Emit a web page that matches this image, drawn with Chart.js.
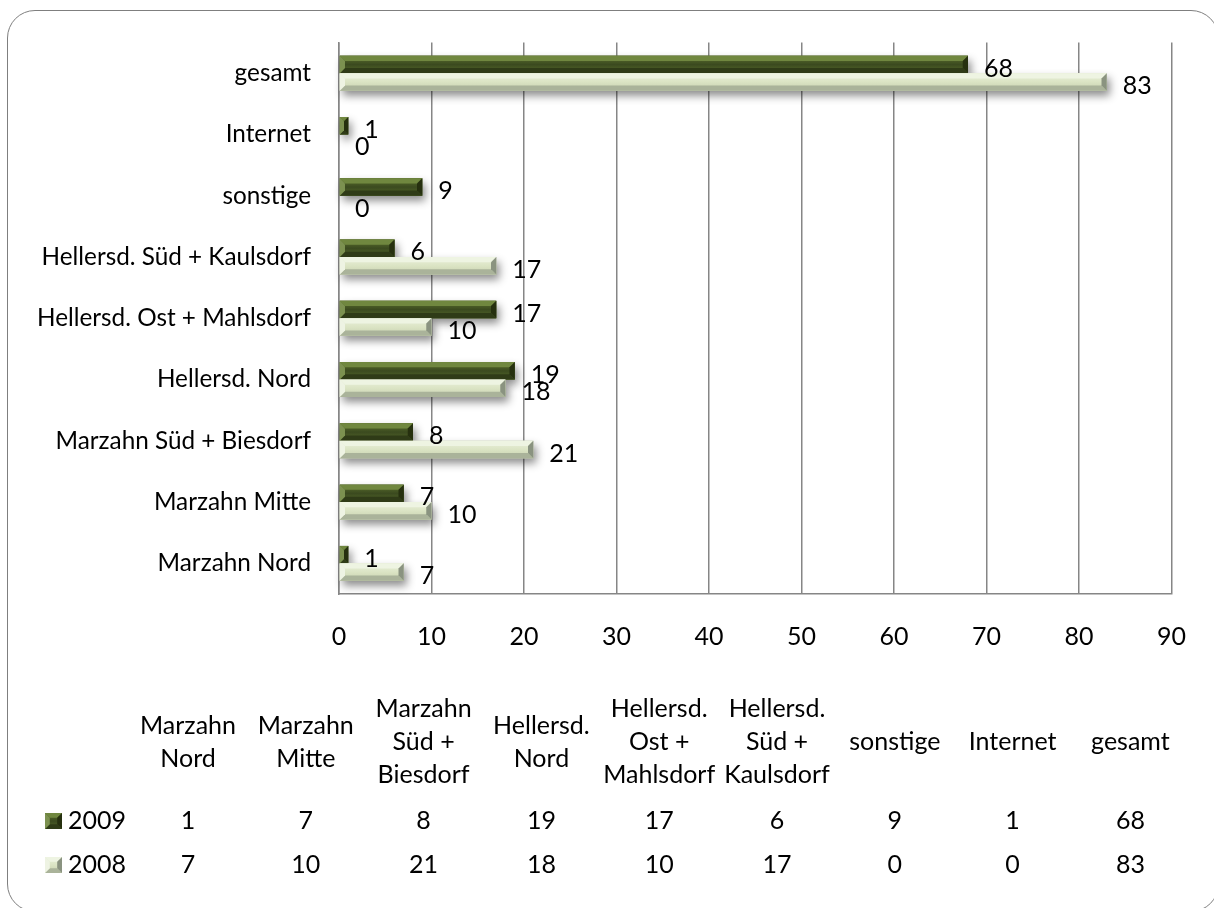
<!DOCTYPE html>
<html>
<head>
<meta charset="utf-8">
<script src="https://cdn.jsdelivr.net/npm/chart.js@4/dist/chart.umd.min.js"></script>
<style>
  body { margin: 0; background: #fff; }
  #wrap { position: relative; width: 1214px; height: 908px; overflow: hidden; }
  #frame {
    position: absolute; left: 7px; top: 10px; width: 1212px; height: 902px;
    border: 1.5px solid #7f7f7f; border-radius: 28px; box-sizing: border-box;
  }
  canvas { position: absolute; left: 0; top: 0; }
</style>
</head>
<body>
<div id="wrap">
  <div id="frame"></div>
  <canvas id="chart" width="1214" height="908"></canvas>
</div>
<script>
// data, in table order (bottom to top in the chart)
const categories = ['Marzahn Nord', 'Marzahn Mitte', 'Marzahn Süd + Biesdorf', 'Hellersd. Nord',
    'Hellersd. Ost + Mahlsdorf', 'Hellersd. Süd + Kaulsdorf', 'sonstige', 'Internet', 'gesamt'];
const seriesNames = ['2009', '2008'];
const values2009 = [1, 7, 8, 19, 17, 6, 9, 1, 68];
const values2008 = [7, 10, 21, 18, 10, 17, 0, 0, 83];
const xMin = 0, xMax = 90, xStep = 10;

const FONT = 'Lato, "Open Sans", sans-serif';
const FSIZE = 25;

// bevel colours per series
const bevel = [
    { face: ['#5d722f', '#3b4a1f', '#566a2b'], top: '#70873f', bottom: '#2f3b17', right: '#26300f', left: '#7c9150' },
    { face: ['#eaf1dc', '#dbe4c4', '#c6cfae'], top: '#eef4e2', bottom: '#aab39a', right: '#8a9380', left: '#eef3e3' }
];

function drawBevel(ctx, x0, x1, yT, h, c) {
    const yB = yT + h;
    const b = Math.min(h * 0.3, (x1 - x0) / 2);
    const g = ctx.createLinearGradient(0, yT, 0, yB);
    g.addColorStop(0, c.face[0]);
    g.addColorStop(0.5, c.face[1]);
    g.addColorStop(1, c.face[2]);
    ctx.fillStyle = g;
    ctx.fillRect(x0, yT, x1 - x0, h);
    const poly = (pts, col) => {
        ctx.beginPath();
        ctx.moveTo(pts[0][0], pts[0][1]);
        for (let i = 1; i < pts.length; i++) ctx.lineTo(pts[i][0], pts[i][1]);
        ctx.closePath();
        ctx.fillStyle = col;
        ctx.fill();
    };
    poly([[x0, yT], [x1, yT], [x1 - b, yT + b], [x0 + b, yT + b]], c.top);
    poly([[x0, yB], [x1, yB], [x1 - b, yB - b], [x0 + b, yB - b]], c.bottom);
    poly([[x0, yT], [x0, yB], [x0 + b, yB - b], [x0 + b, yT + b]], c.left);
    poly([[x1, yT], [x1, yB], [x1 - b, yB - b], [x1 - b, yT + b]], c.right);
}

function eachBar(chart, fn) {
    chart.data.datasets.forEach((ds, di) => {
        chart.getDatasetMeta(di).data.forEach((el, i) => {
            const p = el.getProps(['x', 'y', 'base', 'height'], true);
            fn(p, di, i, ds.data[i]);
        });
    });
}

const barShadow = {
    id: 'barShadow',
    beforeDatasetsDraw(chart) {
        const ctx = chart.ctx;
        eachBar(chart, (p, di) => {
            if (Math.abs(p.x - p.base) < 0.5) return;
            ctx.save();
            ctx.shadowColor = 'rgba(0,0,0,0.45)';
            ctx.shadowBlur = 9;
            ctx.shadowOffsetX = 3;
            ctx.shadowOffsetY = 5;
            ctx.fillStyle = '#888';
            ctx.fillRect(p.base, p.y - p.height / 2, p.x - p.base, p.height);
            ctx.restore();
        });
    },
    afterDatasetsDraw(chart) {
        const ctx = chart.ctx;
        eachBar(chart, (p, di) => {
            if (Math.abs(p.x - p.base) < 0.5) return;
            ctx.save();
            drawBevel(ctx, p.base, p.x, p.y - p.height / 2, p.height, bevel[di]);
            ctx.restore();
        });
        // value labels
        ctx.save();
        ctx.font = FSIZE + 'px ' + FONT;
        ctx.fillStyle = '#000';
        ctx.textAlign = 'left';
        ctx.textBaseline = 'middle';
        eachBar(chart, (p, di, i, v) => {
            ctx.fillText(String(v), p.x + 16, p.y + 4);
        });
        ctx.restore();
    }
};

// data table under the chart
const dataTable = {
    id: 'dataTable',
    afterDraw(chart) {
        const ctx = chart.ctx;
        const col0 = 188, colW = 117.8;
        const headMid = 742, lineH = 33;
        const rowY = [821, 865];
        ctx.save();
        ctx.font = FSIZE + 'px ' + FONT;
        ctx.fillStyle = '#000';
        ctx.textBaseline = 'middle';
        ctx.textAlign = 'center';
        categories.forEach((name, i) => {
            const words = name.split(' ');
            const lines = [];
            let cur = '';
            words.forEach(w => {
                const t = cur ? cur + ' ' + w : w;
                if (cur && ctx.measureText(t).width > colW - 2) {
                    lines.push(cur);
                    cur = w;
                } else cur = t;
            });
            lines.push(cur);
            const cx = col0 + i * colW;
            const y0 = headMid - (lines.length - 1) * lineH / 2;
            lines.forEach((ln, k) => ctx.fillText(ln, cx, y0 + k * lineH));
        });
        [values2009, values2008].forEach((vals, r) => {
            vals.forEach((v, i) => ctx.fillText(String(v), col0 + i * colW, rowY[r]));
        });
        // legend keys
        ctx.textAlign = 'left';
        seriesNames.forEach((s, r) => {
            drawBevel(ctx, 45, 62, rowY[r] - 8, 16, bevel[r]);
            ctx.fillStyle = '#000';
            ctx.fillText(s, 68, rowY[r]);
        });
        ctx.restore();
    }
};

new Chart(document.getElementById('chart'), {
    type: 'bar',
    data: {
        labels: categories,
        datasets: [
            { label: seriesNames[0], data: values2009, backgroundColor: '#4f6228' },
            { label: seriesNames[1], data: values2008, backgroundColor: '#dfe8c9' }
        ]
    },
    options: {
        indexAxis: 'y',
        responsive: false,
        animation: false,
        categoryPercentage: 0.57,
        barPercentage: 1.0,
        layout: { padding: { top: 37, right: 38, bottom: 254, left: 0 } },
        plugins: { legend: { display: false }, tooltip: { enabled: false } },
        scales: {
            x: {
                min: xMin, max: xMax,
                ticks: { stepSize: xStep, color: '#000', font: { family: FONT, size: FSIZE }, padding: 28 },
                grid: { color: '#868686', lineWidth: 1.5, drawTicks: false },
                border: { display: true, color: '#868686', width: 1.5 },
                afterFit(scale) { scale.height = 60; }
            },
            y: {
                reverse: true,
                ticks: { color: '#000', font: { family: FONT, size: 24.3 }, padding: 28 },
                grid: { display: false, drawTicks: false },
                border: { display: true, color: '#868686', width: 1.5 },
                afterFit(scale) { scale.width = 339; }
            }
        }
    },
    plugins: [barShadow, dataTable]
});
</script>
</body>
</html>
